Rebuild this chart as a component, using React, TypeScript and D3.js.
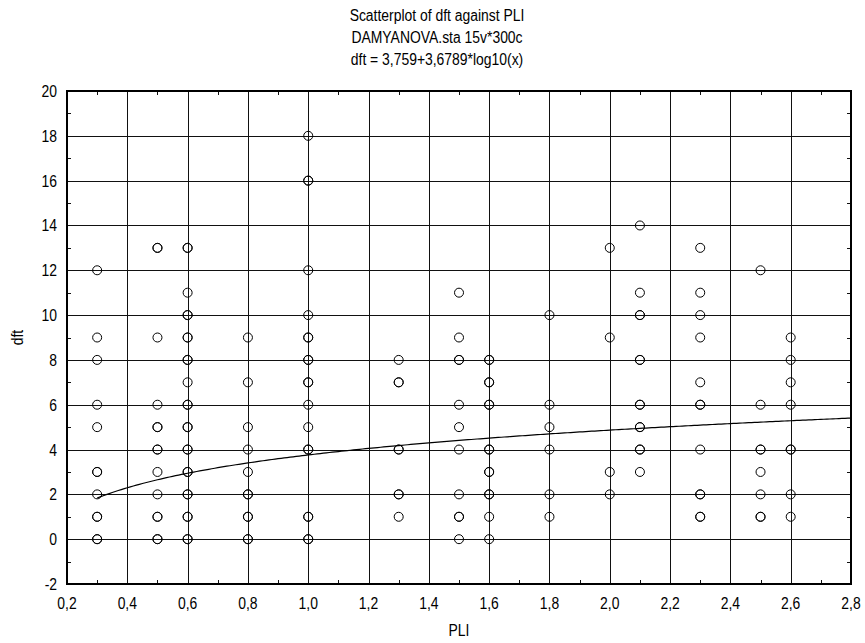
import * as d3 from 'd3';

const titleLines = [
  'Scatterplot of dft against PLI',
  'DAMYANOVA.sta 15v*300c',
  'dft = 3,759+3,6789*log10(x)',
];

const pliLevels = [0.3, 0.5, 0.6, 0.8, 1.0, 1.3, 1.5, 1.6, 1.8, 2.0, 2.1, 2.3, 2.5, 2.6];
// values seen once at each PLI level
const dftSingle = [
  [12, 9, 8, 6, 5, 2],
  [9, 6, 3, 2],
  [11, 7],
  [9, 7, 5, 4, 3],
  [18, 12, 10, 6, 5],
  [8, 1],
  [11, 9, 6, 5, 4, 2, 0],
  [1, 0],
  [10, 6, 5, 4, 2, 1],
  [13, 9, 3, 2],
  [14, 11, 3],
  [13, 11, 10, 9, 7, 4],
  [12, 6, 3, 2],
  [9, 8, 7, 6, 2, 1],
];
// values that overlap (drawn heavier)
const dftRepeated = [
  [3, 1, 0],
  [13, 5, 4, 1, 0],
  [13, 10, 9, 8, 6, 5, 4, 3, 2, 1, 0],
  [2, 1, 0],
  [16, 9, 8, 7, 4, 1, 0],
  [7, 4, 2],
  [8, 1],
  [8, 7, 6, 4, 3, 2],
  [],
  [],
  [10, 8, 6, 5, 4],
  [6, 2, 1],
  [4, 1],
  [4],
];

const fitIntercept = 3.759;
const fitSlope = 3.6789;

const xTicks = [0.2, 0.4, 0.6, 0.8, 1.0, 1.2, 1.4, 1.6, 1.8, 2.0, 2.2, 2.4, 2.6, 2.8];
const yTicks = [-2, 0, 2, 4, 6, 8, 10, 12, 14, 16, 18, 20];

// condensed text, the original uses a narrow sans face
function Label({
  x,
  y,
  anchor,
  rotate = 0,
  children,
}: {
  x: number;
  y: number;
  anchor: 'start' | 'middle' | 'end';
  rotate?: number;
  children: string;
}) {
  return (
    <text
      transform={`translate(${x},${y}) rotate(${rotate}) scale(0.87,1)`}
      textAnchor={anchor}
      fontSize={16}
    >
      {children}
    </text>
  );
}

export default function App() {
  const width = 865;
  const height = 643;
  const margin = { top: 91, right: 14, bottom: 59, left: 67 };
  const x = d3.scaleLinear().domain([0.2, 2.8]).range([margin.left, width - margin.right]);
  const y = d3.scaleLinear().domain([-2, 20]).range([height - margin.bottom, margin.top]);
  const font = '"Liberation Sans", Arial, sans-serif';

  const points: { px: number; v: number }[] = [];
  pliLevels.forEach((p, i) => {
    dftSingle[i].forEach((v) => points.push({ px: p, v }));
    dftRepeated[i].forEach((v) => {
      points.push({ px: p, v });
      points.push({ px: p, v });
    });
  });

  const xMinor = d3.range(3, 28, 2).map((d) => d / 10);
  const yMinor = d3.range(-1, 20, 2);

  const line = d3
    .line<number>()
    .x((d) => x(d))
    .y((d) => y(fitIntercept + fitSlope * Math.log10(d)));
  const curveXs = d3.range(0, 251).map((i) => 0.3 + (i * 2.5) / 250);

  const cr = (v: number) => Math.round(v) + 0.5;
  const x0 = x.range()[0];
  const x1 = x.range()[1];
  const y0 = y.range()[1];
  const y1 = y.range()[0];

  return (
    <svg width={width} height={height} style={{ display: 'block', position: 'absolute', left: 0, top: 0 }} fontFamily={font}>
      <rect width={width} height={height} fill="#fff" />
      {titleLines.map((t, i) => (
        <Label key={t} x={437} y={21 + i * 22} anchor="middle">
          {t}
        </Label>
      ))}
      <g shapeRendering="crispEdges" stroke="#111" strokeWidth={1}>
        {xTicks.slice(1, -1).map((t) => (
          <line key={'gx' + t} x1={cr(x(t))} x2={cr(x(t))} y1={y0} y2={y1} />
        ))}
        {yTicks.slice(1, -1).map((t) => (
          <line key={'gy' + t} x1={x0} x2={x1} y1={cr(y(t))} y2={cr(y(t))} />
        ))}
        {xMinor.map((t) => (
          <g key={'mx' + t}>
            <line x1={cr(x(t))} x2={cr(x(t))} y1={y0} y2={y0 + 4} />
            <line x1={cr(x(t))} x2={cr(x(t))} y1={y1} y2={y1 - 4} />
          </g>
        ))}
        {yMinor.map((t) => (
          <g key={'my' + t}>
            <line x1={x0} x2={x0 + 4} y1={cr(y(t))} y2={cr(y(t))} />
            <line x1={x1} x2={x1 - 4} y1={cr(y(t))} y2={cr(y(t))} />
          </g>
        ))}
        <rect x={x0} y={y0} width={x1 - x0} height={y1 - y0} fill="none" stroke="#000" strokeWidth={2} />
      </g>
      <path d={line(curveXs) ?? ''} fill="none" stroke="#000" strokeWidth={1.2} />
      {points.map((d, i) => (
        <circle key={i} cx={x(d.px)} cy={y(d.v)} r={4.5} fill="none" stroke="#000" strokeWidth={1} />
      ))}
      {xTicks.map((t) => (
        <Label key={'xl' + t} x={x(t)} y={y1 + 25} anchor="middle">
          {t.toFixed(1).replace('.', ',')}
        </Label>
      ))}
      {yTicks.map((t) => (
        <Label key={'yl' + t} x={x0 - 10} y={y(t) + 6} anchor="end">
          {String(t)}
        </Label>
      ))}
      <Label x={(x0 + x1) / 2} y={636} anchor="middle">
        PLI
      </Label>
      <Label x={23} y={(y0 + y1) / 2} anchor="middle" rotate={-90}>
        dft
      </Label>
    </svg>
  );
}
